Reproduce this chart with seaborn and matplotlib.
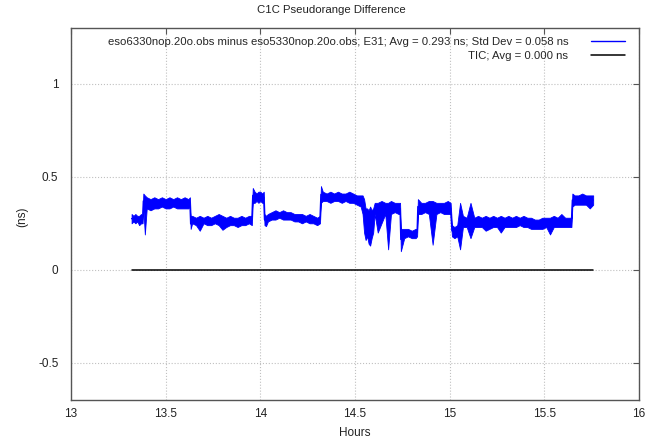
import numpy as np
import pandas as pd
import matplotlib
matplotlib.use('Agg')
import matplotlib.pyplot as plt
import seaborn as sns

# values (hours, ns)
hours = [
    13.320, 13.330, 13.340, 13.350, 13.360, 13.370, 13.378,
    13.382, 13.390, 13.400, 13.420, 13.440, 13.460, 13.480, 13.500, 13.520, 13.540, 13.560, 13.580, 13.600, 13.620, 13.628,
    13.632, 13.640, 13.660, 13.680, 13.700, 13.720, 13.740, 13.760, 13.780, 13.800, 13.820, 13.840, 13.860, 13.880, 13.900, 13.920, 13.940, 13.955,
    13.960, 13.970, 13.980, 13.990, 14.000, 14.010, 14.018,
    14.022, 14.030, 14.040, 14.060, 14.080, 14.100, 14.120, 14.140, 14.160, 14.180, 14.200, 14.220, 14.240, 14.260, 14.280, 14.300, 14.315,
    14.320, 14.330, 14.350, 14.370, 14.390, 14.410, 14.430, 14.450, 14.470, 14.490, 14.510, 14.530,
    14.540, 14.548, 14.556, 14.564, 14.572, 14.580, 14.588, 14.596,
    14.604, 14.620, 14.640, 14.660, 14.675, 14.690, 14.710, 14.730, 14.738,
    14.742, 14.760, 14.780, 14.800, 14.820, 14.828,
    14.832, 14.850, 14.870, 14.890, 14.910, 14.930, 14.950, 14.970, 14.990, 15.005,
    15.012, 15.025, 15.040, 15.055,
    15.070, 15.090, 15.110, 15.130, 15.150, 15.170, 15.190, 15.210, 15.230, 15.250, 15.270, 15.290, 15.310, 15.330, 15.350,
    15.370, 15.390, 15.410, 15.430, 15.450, 15.470, 15.490, 15.510, 15.530, 15.550, 15.570, 15.590, 15.610, 15.630, 15.643,
    15.648, 15.660, 15.680, 15.700, 15.720, 15.740, 15.758,
]
band_low = [
    0.25, 0.26, 0.25, 0.26, 0.24, 0.25, 0.25,
    0.33, 0.35, 0.33, 0.32, 0.33, 0.33, 0.34, 0.33, 0.33, 0.34, 0.33, 0.33, 0.33, 0.33, 0.34,
    0.23, 0.25, 0.24, 0.24, 0.25, 0.24, 0.24, 0.25, 0.24, 0.24, 0.23, 0.24, 0.24, 0.23, 0.24, 0.24, 0.25, 0.24,
    0.36, 0.36, 0.37, 0.36, 0.37, 0.36, 0.36,
    0.24, 0.25, 0.26, 0.27, 0.27, 0.28, 0.27, 0.27, 0.27, 0.26, 0.26, 0.25, 0.26, 0.25, 0.25, 0.24, 0.25,
    0.36, 0.37, 0.37, 0.36, 0.37, 0.37, 0.36, 0.37, 0.36, 0.36, 0.35, 0.34,
    0.30, 0.20, 0.16, 0.18, 0.14, 0.13, 0.17, 0.20,
    0.30, 0.30, 0.31, 0.30, 0.30, 0.30, 0.31, 0.30, 0.30,
    0.17, 0.17, 0.18, 0.17, 0.17, 0.18,
    0.30, 0.30, 0.31, 0.30, 0.30, 0.30, 0.31, 0.30, 0.30, 0.30,
    0.18, 0.17, 0.18, 0.19,
    0.23, 0.23, 0.22, 0.23, 0.23, 0.23, 0.23, 0.22, 0.23, 0.23, 0.23, 0.23, 0.23, 0.23, 0.23,
    0.24, 0.23, 0.23, 0.22, 0.22, 0.22, 0.22, 0.23, 0.23, 0.23, 0.23, 0.23, 0.23, 0.23, 0.23,
    0.34, 0.35, 0.35, 0.35, 0.35, 0.34, 0.35,
]
band_high = [
    0.30, 0.29, 0.30, 0.29, 0.29, 0.30, 0.29,
    0.41, 0.40, 0.39, 0.38, 0.39, 0.38, 0.39, 0.38, 0.39, 0.38, 0.39, 0.38, 0.39, 0.38, 0.39,
    0.29, 0.29, 0.28, 0.29, 0.28, 0.29, 0.28, 0.29, 0.30, 0.29, 0.28, 0.29, 0.28, 0.28, 0.29, 0.28, 0.29, 0.29,
    0.44, 0.42, 0.41, 0.42, 0.42, 0.41, 0.42,
    0.30, 0.29, 0.30, 0.31, 0.32, 0.31, 0.32, 0.31, 0.31, 0.30, 0.30, 0.30, 0.29, 0.30, 0.29, 0.28, 0.29,
    0.45, 0.42, 0.41, 0.42, 0.41, 0.42, 0.41, 0.41, 0.42, 0.41, 0.40, 0.40,
    0.40, 0.38, 0.33, 0.33, 0.32, 0.34, 0.32, 0.33,
    0.36, 0.36, 0.37, 0.36, 0.36, 0.37, 0.36, 0.36, 0.36,
    0.22, 0.22, 0.22, 0.21, 0.22, 0.22,
    0.38, 0.36, 0.36, 0.37, 0.37, 0.36, 0.36, 0.36, 0.37, 0.36,
    0.24, 0.23, 0.24, 0.27,
    0.29, 0.28, 0.29, 0.28, 0.29, 0.28, 0.29, 0.28, 0.29, 0.28, 0.29, 0.28, 0.29, 0.28, 0.29,
    0.28, 0.29, 0.28, 0.28, 0.27, 0.27, 0.28, 0.28, 0.28, 0.29, 0.28, 0.29, 0.28, 0.28, 0.28,
    0.41, 0.40, 0.40, 0.41, 0.40, 0.40, 0.40,
]
# single-sample outliers
spike_hours = [13.390, 13.632, 13.680, 13.800, 14.030, 14.620, 14.640, 14.675, 14.742, 14.910,
               15.055, 15.055, 15.110, 15.110, 15.190, 15.270, 15.530, 15.590, 15.740]
spike_values = [0.19, 0.22, 0.21, 0.215, 0.235, 0.20, 0.25, 0.11, 0.10, 0.135,
                0.11, 0.36, 0.36, 0.17, 0.21, 0.20, 0.19, 0.30, 0.33]

tic_hours = [13.320, 15.758]
tic_values = [0.0, 0.0]

diff_label = 'eso6330nop.20o.obs minus eso5330nop.20o.obs; E31; Avg = 0.293 ns; Std Dev = 0.058 ns'
tic_label = 'TIC; Avg = 0.000 ns'

sns.set_style('white')
plt.rcParams['font.family'] = ['Liberation Sans', 'DejaVu Sans']

diff = pd.concat([
    pd.DataFrame({'hours': hours, 'ns': band_low}),
    pd.DataFrame({'hours': hours, 'ns': band_high}),
    pd.DataFrame({'hours': spike_hours, 'ns': spike_values}),
], ignore_index=True)
tic = pd.DataFrame({'hours': tic_hours, 'ns': tic_values})

fig = plt.figure(figsize=(6.58, 4.42), dpi=100)
ax = fig.add_axes([71 / 658, 42 / 442, 568 / 658, 372 / 442])

sns.lineplot(data=diff, x='hours', y='ns', ax=ax, color='#0000ff', linewidth=1.0,
             errorbar=('pi', 100), err_kws={'alpha': 1, 'linewidth': 0.6, 'edgecolor': '#0000ff'},
             label=diff_label)
sns.lineplot(data=tic, x='hours', y='ns', ax=ax, color='black', linewidth=1.1, label=tic_label)

ax.set_xlim(13, 16)
ax.set_ylim(-0.7, 1.3)
ax.set_xticks([13, 13.5, 14, 14.5, 15, 15.5, 16])
ax.set_xticklabels(['13', '13.5', '14', '14.5', '15', '15.5', '16'])
ax.set_yticks([-0.5, 0, 0.5, 1])
ax.set_yticklabels(['-0.5', '0', '0.5', '1'])
ax.tick_params(direction='in', length=4, width=0.8, top=True, right=True,
               labelsize=8.5, color='#555555', labelcolor='#222222')
ax.tick_params(axis='y', pad=9)
ax.tick_params(axis='x', pad=6)
ax.grid(True, linestyle=':', color='#c0c0c0', linewidth=0.8)
ax.set_axisbelow(True)
for s in ax.spines.values():
    s.set_color('#555555')
    s.set_linewidth(1.0)
ax.set_xlabel('')
ax.set_ylabel('')

ax.legend(loc='upper right', bbox_to_anchor=(1, 1 + 5 / 372), frameon=False, markerfirst=False,
          fontsize=8.2, handlelength=3.0, handletextpad=2.0, labelspacing=0.4,
          borderaxespad=0.9, borderpad=0.3)

fig.text(331 / 658, 1 - 10 / 442, 'C1C Pseudorange Difference', ha='center', va='center',
         fontsize=8.2, color='#222222')
fig.text(355 / 658, 1 - 433 / 442, 'Hours', ha='center', va='center', fontsize=8.5, color='#222222')
fig.text(22 / 658, 1 - 217 / 442, '(ns)', ha='center', va='center', rotation=90,
         fontsize=8.5, color='#222222')

fig.savefig('out.png', dpi=100)
